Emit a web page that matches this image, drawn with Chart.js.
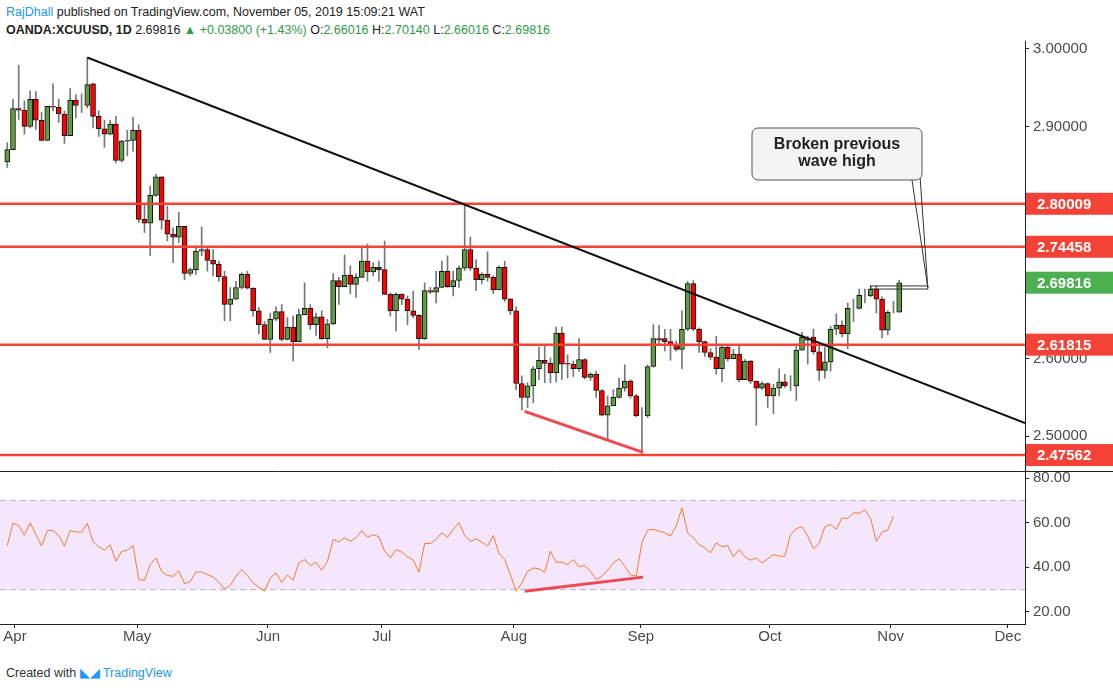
<!DOCTYPE html>
<html>
<head>
<meta charset="utf-8">
<script src="https://cdn.jsdelivr.net/npm/chart.js@4.4.1/dist/chart.umd.min.js"></script>
<style>
  body { margin: 0; background: #fff; font-family: "Liberation Sans", Arial, sans-serif; }
  #head { position: absolute; left: 6px; top: 3px; font-size: 12.5px; line-height: 18px; color: #222; }
  #head b { font-weight: bold; }
  .blue { color: #2196f3; }
  .green { color: #2e9b46; }
  #main { position: absolute; left: 0; top: 28px; }
  #rsi { position: absolute; left: 0; top: 457px; }
  #foot { position: absolute; left: 6px; top: 665px; font-size: 12.5px; color: #333; }
  #foot span { color: #2196f3; }
</style>
</head>
<body>
<div id="head">
  <div><span class="blue">RajDhall</span> published on TradingView.com, November 05, 2019 15:09:21 WAT</div>
  <div><b>OANDA:XCUUSD, 1D</b> 2.69816 <span class="green">▲ +0.03800 (+1.43%)</span> O:<span class="green">2.66016</span> H:<span class="green">2.70140</span> L:<span class="green">2.66016</span> C:<span class="green">2.69816</span></div>
</div>
<canvas id="main" width="1113" height="456"></canvas>
<canvas id="rsi" width="1113" height="189"></canvas>
<div id="foot">Created with <span>◣◢ TradingView</span></div>
<script>
// Données journalières : index de séance (0 = 1er avril 2019), premier point = -1
const firstIndex = -1;
const opens = [
  2.854,2.870,2.923,2.921,2.900,2.935,2.908,2.882,2.926,2.925,2.916,
  2.888,2.934,2.927,2.927,2.955,2.913,2.897,2.890,2.903,2.856,2.881,
  2.882,2.895,2.780,2.775,2.811,2.835,2.779,2.761,2.757,2.771,2.710,
  2.715,2.739,2.741,2.727,2.722,2.706,2.670,2.677,2.692,2.709,2.691,2.662,
  2.644,2.625,2.651,2.661,2.625,2.641,2.622,2.657,2.665,2.644,2.654,2.626,
  2.645,2.701,2.693,2.708,2.696,2.705,2.726,2.712,2.718,2.715,2.683,2.662,
  2.683,2.677,2.662,2.656,2.626,2.688,2.686,2.692,2.713,2.693,2.701,2.717,
  2.741,2.717,2.702,2.709,2.705,2.689,2.718,2.677,2.662,2.568,2.550,2.565,
  2.587,2.598,2.594,2.582,2.633,2.594,2.593,2.587,2.599,2.576,2.580,2.559,
  2.527,2.539,2.550,2.562,2.571,2.552,2.526,2.526,2.590,2.626,2.626,2.622,
  2.618,2.612,2.638,2.697,2.638,2.622,2.608,2.602,2.587,2.615,2.600,2.606,
  2.573,2.597,2.571,2.562,2.568,2.552,2.562,2.570,2.565,2.565,2.611,2.625,
  2.628,2.609,2.585,2.596,2.638,2.643,2.632,2.665,2.665,2.681,2.681,2.690,
  2.677,2.637,2.661,2.66016];
const closes = [
  2.870,2.923,2.921,2.900,2.935,2.908,2.882,2.926,2.925,2.916,2.888,
  2.934,2.927,2.927,2.954,2.913,2.897,2.890,2.903,2.856,2.881,2.882,
  2.895,2.780,2.775,2.811,2.835,2.779,2.761,2.757,2.771,2.710,2.715,
  2.739,2.741,2.727,2.722,2.706,2.670,2.677,2.692,2.709,2.691,2.662,2.644,
  2.625,2.651,2.661,2.625,2.641,2.622,2.657,2.665,2.644,2.654,2.626,2.645,
  2.701,2.693,2.708,2.696,2.705,2.726,2.712,2.718,2.715,2.683,2.662,2.683,
  2.677,2.662,2.656,2.626,2.688,2.686,2.692,2.713,2.693,2.701,2.717,2.741,
  2.717,2.702,2.709,2.705,2.689,2.718,2.677,2.662,2.568,2.550,2.565,2.587,
  2.598,2.594,2.582,2.633,2.593,2.593,2.587,2.599,2.576,2.580,2.559,2.527,
  2.539,2.550,2.562,2.571,2.552,2.526,2.526,2.590,2.626,2.624,2.622,2.618,
  2.612,2.638,2.697,2.638,2.622,2.608,2.602,2.587,2.615,2.600,2.606,2.573,
  2.597,2.571,2.562,2.568,2.552,2.562,2.570,2.565,2.565,2.611,2.628,2.624,
  2.609,2.585,2.596,2.638,2.643,2.632,2.665,2.665,2.682,2.681,2.690,2.677,
  2.637,2.660,2.661,2.69816];
const highs = [
  2.879,2.935,2.979,2.933,2.946,2.945,2.918,2.926,2.955,2.935,2.920,
  2.949,2.941,2.942,2.989,2.956,2.920,2.908,2.908,2.913,2.882,2.895,
  2.912,2.902,2.799,2.823,2.838,2.835,2.797,2.769,2.789,2.771,2.717,
  2.743,2.770,2.743,2.741,2.726,2.713,2.692,2.700,2.711,2.713,2.692,2.666,
  2.648,2.659,2.667,2.670,2.653,2.655,2.664,2.698,2.670,2.659,2.662,2.651,
  2.710,2.705,2.734,2.720,2.710,2.743,2.748,2.724,2.726,2.752,2.685,2.685,
  2.684,2.681,2.687,2.657,2.698,2.692,2.713,2.726,2.733,2.713,2.720,2.799,
  2.757,2.728,2.711,2.738,2.707,2.720,2.726,2.678,2.667,2.578,2.569,2.590,
  2.615,2.618,2.601,2.641,2.641,2.605,2.597,2.626,2.600,2.582,2.584,2.560,
  2.552,2.560,2.575,2.592,2.573,2.554,2.537,2.592,2.644,2.643,2.638,2.638,
  2.623,2.662,2.700,2.701,2.640,2.623,2.613,2.629,2.616,2.616,2.612,2.618,
  2.599,2.598,2.571,2.570,2.569,2.567,2.587,2.580,2.578,2.619,2.634,2.629,
  2.638,2.616,2.615,2.642,2.658,2.649,2.672,2.677,2.690,2.690,2.694,2.694,
  2.680,2.662,2.674,2.7014];
const lows = [
  2.847,2.870,2.909,2.890,2.898,2.896,2.881,2.882,2.920,2.905,2.878,
  2.888,2.911,2.918,2.924,2.898,2.887,2.873,2.889,2.853,2.854,2.862,
  2.868,2.776,2.763,2.733,2.810,2.767,2.752,2.724,2.750,2.702,2.707,
  2.709,2.733,2.713,2.707,2.700,2.649,2.649,2.677,2.690,2.690,2.655,2.632,
  2.625,2.608,2.649,2.623,2.624,2.597,2.622,2.657,2.638,2.630,2.625,2.614,
  2.644,2.670,2.693,2.684,2.679,2.705,2.700,2.707,2.700,2.683,2.655,2.636,
  2.670,2.644,2.653,2.612,2.625,2.684,2.672,2.692,2.692,2.681,2.692,2.714,
  2.714,2.688,2.697,2.700,2.684,2.689,2.674,2.657,2.560,2.534,2.537,2.543,
  2.573,2.569,2.569,2.570,2.573,2.575,2.577,2.584,2.574,2.572,2.550,2.526,
  2.496,2.541,2.549,2.558,2.549,2.525,2.478,2.524,2.589,2.618,2.610,2.598,
  2.610,2.587,2.636,2.636,2.608,2.603,2.599,2.580,2.570,2.597,2.600,2.570,
  2.573,2.568,2.514,2.560,2.537,2.529,2.552,2.563,2.559,2.546,2.611,2.593,
  2.606,2.572,2.575,2.584,2.631,2.628,2.613,2.648,2.664,2.672,2.680,2.659,
  2.627,2.631,2.659,2.66016];
const rsiValues = [
  49.8,59.7,58.8,54.4,60.0,54.7,49.5,56.5,56.5,54.3,49.5,
  56.5,55.8,55.8,59.7,51.4,49.2,47.7,50.1,42.7,47.1,47.7,
  49.8,34.5,34.2,41.2,44.2,38.2,36.3,36.0,38.4,32.7,33.6,
  37.9,37.9,36.7,35.7,33.3,30.3,31.8,36.0,39.0,36.3,33.0,31.1,
  29.3,35.2,37.5,33.3,36.6,34.2,42.0,43.5,40.8,42.3,38.7,42.7,
  52.5,51.3,53.2,51.7,53.2,56.5,53.5,54.6,53.7,47.2,44.2,48.0,
  46.8,44.7,43.2,37.8,50.7,50.7,52.5,55.5,53.4,57.0,60.0,54.3,
  51.7,52.8,51.3,49.5,54.3,46.2,43.5,36.7,29.3,33.0,38.2,39.7,
  39.3,37.8,47.2,42.3,42.3,41.2,43.5,40.2,40.8,38.2,34.5,36.0,
  38.7,42.0,43.8,40.5,36.7,36.0,51.0,56.7,57.0,56.2,55.5,54.0,
  58.5,66.7,55.5,53.2,50.2,48.7,46.5,51.0,49.2,49.8,44.7,48.0,
  44.7,43.2,44.2,42.0,43.8,45.7,45.0,45.0,54.7,57.3,58.2,54.0,
  48.3,50.7,58.2,59.2,57.0,62.2,61.8,64.5,64.2,65.7,61.8,51.7,
  55.8,56.7,63.0];

const levels = [2.80009, 2.74458, 2.61815, 2.47562];
const lastPrice = 2.69816;
const priceTicks = [2.5, 2.6, 2.7, 2.8, 2.9, 3.0];
const rsiTicks = [20, 40, 60, 80];
const monthLabels = ['Apr', 'May', 'Jun', 'Jul', 'Aug', 'Sep', 'Oct', 'Nov', 'Dec'];
const monthPos = [0.35, 21.7, 44.6, 64.5, 87.6, 109.8, 132.4, 153.5, 174.0];
// Ligne de tendance, divergences et repère "plus haut"
const trendLine = [{ x: 13, y: 2.989 }, { x: 177, y: 2.517 }];
const priceDiv = [{ x: 89.5, y: 2.532 }, { x: 110.2, y: 2.479 }];
const rsiDiv = [{ x: 89.5, y: 29.3 }, { x: 110.2, y: 35.6 }];
const highBox = { x0: 150, x1: 160, top: 2.694, bottom: 2.690 };

const X_MIN = -2.27, X_MAX = 177.0;
const AXIS_W = 88;
const MAIN_TOP = 28; // décalage du canvas principal dans la page
const FONT = '"Liberation Sans", Arial, sans-serif';
const TXT = '#4a4a4a';

// Construction des bougies
const bodies = closes.map((c, i) => ({ x: firstIndex + i, y: [opens[i], c] }));
const wicks = closes.map((c, i) => ({ x: firstIndex + i, y: [lows[i], highs[i]] }));
const bodyColors = closes.map((c, i) => c >= opens[i] ? '#5e9d43' : '#ff0000');

const hLine = v => [{ x: X_MIN, y: v }, { x: X_MAX, y: v }];
const fixW = axis => { axis.width = AXIS_W; };

// Étiquettes colorées à droite + bulle d'annotation
const overlayPlugin = {
  id: 'overlay',
  afterDraw(chart) {
    const ctx = chart.ctx, y = chart.scales.y, x = chart.scales.x;
    const a = chart.chartArea;
    const T = -MAIN_TOP;
    ctx.save();
    // séparateur bas
    ctx.strokeStyle = '#222'; ctx.lineWidth = 1;
    ctx.beginPath(); ctx.moveTo(0, a.bottom + 0.5); ctx.lineTo(chart.width, a.bottom + 0.5); ctx.stroke();
    // repère et bulle
    const bx0 = x.getPixelForValue(highBox.x0), bx1 = x.getPixelForValue(highBox.x1);
    const by0 = y.getPixelForValue(highBox.top), by1 = y.getPixelForValue(highBox.bottom);
    ctx.strokeStyle = '#333';
    ctx.strokeRect(bx0, by0, bx1 - bx0, by1 - by0);
    ctx.beginPath();
    ctx.moveTo(912, 180 + T); ctx.lineTo(bx1, (by0 + by1) / 2); ctx.lineTo(920, 176 + T);
    ctx.stroke();
    ctx.fillStyle = '#f4f4f4'; ctx.strokeStyle = '#555';
    ctx.beginPath(); ctx.roundRect(752, 128 + T, 170, 52, 6); ctx.fill(); ctx.stroke();
    ctx.fillStyle = '#222'; ctx.font = 'bold 16px ' + FONT; ctx.textAlign = 'center';
    ctx.fillText('Broken previous', 837, 149 + T);
    ctx.fillText('wave high', 837, 166 + T);
    // étiquettes de prix
    const tags = levels.map(v => [v, '#f44336']).concat([[lastPrice, '#4caf50']]);
    ctx.font = 'bold 15px ' + FONT; ctx.textAlign = 'left'; ctx.textBaseline = 'middle';
    tags.forEach(([v, col]) => {
      const py = y.getPixelForValue(v);
      ctx.fillStyle = col; ctx.fillRect(a.right + 1, py - 11, AXIS_W, 22);
      ctx.fillStyle = '#fff'; ctx.fillText(v.toFixed(5), a.right + 12, py + 1);
    });
    ctx.restore();
  }
};

new Chart(document.getElementById('main'), {
  type: 'bar',
  data: {
    datasets: [
      { label: 'wick', data: wicks, backgroundColor: '#777', barThickness: 1, grouped: false, order: 3 },
      { label: 'body', data: bodies, backgroundColor: bodyColors, borderColor: '#111', borderWidth: 1,
        borderSkipped: false, barThickness: 5, grouped: false, order: 2 },
      ...levels.map(v => ({ type: 'line', data: hLine(v), borderColor: '#f44336', borderWidth: 2.5, pointRadius: 0, order: 1 })),
      { type: 'line', data: trendLine, borderColor: '#111', borderWidth: 2, pointRadius: 0, order: 0 },
      { type: 'line', data: priceDiv, borderColor: '#f0484f', borderWidth: 3, pointRadius: 0, order: 0 }
    ]
  },
  options: {
    responsive: false, animation: false,
    layout: { padding: 0 },
    plugins: { legend: { display: false }, tooltip: { enabled: false } },
    scales: {
      x: { type: 'linear', min: X_MIN, max: X_MAX, offset: false, display: false },
      y: {
        position: 'right', min: 2.455, max: 3.0103, afterFit: fixW,
        afterBuildTicks: a => { a.ticks = priceTicks.map(v => ({ value: v })); },
        grid: { drawOnChartArea: false, tickLength: 4, color: '#222' },
        border: { color: '#222' },
        ticks: { color: TXT, font: { family: FONT, size: 15 }, callback: v => v.toFixed(5), padding: 4 }
      }
    }
  },
  plugins: [overlayPlugin]
});

// Zone RSI 30-70
const bandPlugin = {
  id: 'band',
  beforeDatasetsDraw(chart) {
    const ctx = chart.ctx, y = chart.scales.y, a = chart.chartArea;
    const y70 = y.getPixelForValue(70), y30 = y.getPixelForValue(30);
    ctx.save();
    ctx.fillStyle = '#f4e6fc';
    ctx.fillRect(a.left, y70, a.right - a.left, y30 - y70);
    ctx.strokeStyle = '#b8b0bc'; ctx.setLineDash([6, 4]); ctx.lineWidth = 1;
    [y70, y30].forEach(py => { ctx.beginPath(); ctx.moveTo(a.left, py); ctx.lineTo(a.right, py); ctx.stroke(); });
    ctx.restore();
  }
};

new Chart(document.getElementById('rsi'), {
  type: 'line',
  data: {
    datasets: [
      { data: rsiValues.map((v, i) => ({ x: firstIndex + i, y: v })), borderColor: '#f57c2a', borderWidth: 1, pointRadius: 0, tension: 0 },
      { data: rsiDiv, borderColor: '#f0484f', borderWidth: 3, pointRadius: 0 }
    ]
  },
  options: {
    responsive: false, animation: false,
    layout: { padding: 0 },
    plugins: { legend: { display: false }, tooltip: { enabled: false } },
    scales: {
      x: {
        type: 'linear', min: X_MIN, max: X_MAX, offset: false,
        afterBuildTicks: a => { a.ticks = monthPos.map(v => ({ value: v })); },
        grid: { drawOnChartArea: false, tickLength: 4, color: '#222' },
        border: { color: '#222' },
        ticks: { color: TXT, font: { family: FONT, size: 15 }, maxRotation: 0, autoSkip: false, padding: 0,
          callback: v => monthLabels[monthPos.indexOf(v)] }
      },
      y: {
        position: 'right', min: 14.6, max: 83.6, afterFit: fixW,
        afterBuildTicks: a => { a.ticks = rsiTicks.map(v => ({ value: v })); },
        grid: { drawOnChartArea: false, tickLength: 4, color: '#222' },
        border: { color: '#222' },
        ticks: { color: TXT, font: { family: FONT, size: 15 }, callback: v => v.toFixed(2), padding: 4 }
      }
    }
  },
  plugins: [bandPlugin]
});
</script>
</body>
</html>
